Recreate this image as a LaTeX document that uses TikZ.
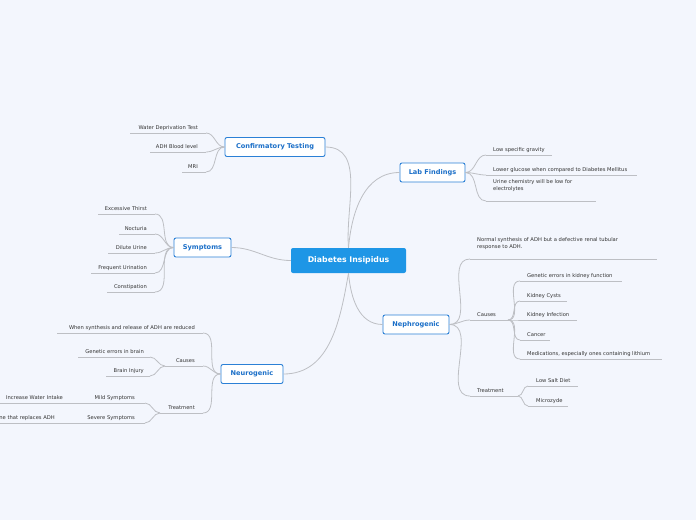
\documentclass[tikz,border=0pt]{standalone}
\usepackage{fontspec}
\setmainfont{DejaVu Sans}
\definecolor{bg}{HTML}{F3F6FD}
\definecolor{bl}{HTML}{2B80D6}
\definecolor{blt}{HTML}{1B6FC8}
\definecolor{cen}{HTML}{1E96E6}
\definecolor{ln}{HTML}{BDBFC4}
\definecolor{tx}{HTML}{333333}
\begin{document}
\begin{tikzpicture}[x=1pt,y=-1pt,
 box/.style={draw=bl,fill=white,rounded corners=2pt,line width=0.9pt,text=blt,font=\fontsize{6.6}{7}\selectfont\bfseries,minimum height=19pt,inner sep=0pt},
 lf/.style={font=\fontsize{5.2}{6.6}\selectfont,text=tx,inner sep=0pt},
 ul/.style={draw=ln,line width=0.6pt},
 cn/.style={draw=ln,line width=0.8pt}]
\fill[bg] (0,0) rectangle (696,520);
\useasboundingbox (0,0) rectangle (696,520);
% boxes
\node[fill=cen,rounded corners=2pt,text=white,font=\fontsize{7.8}{8}\selectfont\bfseries,minimum width=115pt,minimum height=25pt,inner sep=0pt] (c) at (348.5,260.5) {Diabetes Insipidus};
\node[box,minimum width=100pt] (ct) at (275,147) {Confirmatory Testing};
\node[box,minimum width=57pt] (sy) at (202.5,247.5) {Symptoms};
\node[box,minimum width=62pt] (ng) at (252,374) {Neurogenic};
\node[box,minimum width=65pt] (lf) at (432.5,172.5) {Lab Findings};
\node[box,minimum width=66pt] (np) at (416,324.5) {Nephrogenic};
\draw[cn] (c.north) to[out=95,in=0] (ct.east);
\draw[cn] (c.west) to[out=180,in=0] (sy.east);
\draw[cn] (c.south) to[out=260,in=0] (ng.east);
\draw[cn] (c.north) to[out=85,in=180] (lf.west);
\draw[cn] (c.south) to[out=275,in=180] (np.west);
\newcommand\lleaf[6]{\node[lf,anchor=base east] (#1) at (#2,#3+2) {#4};
 \coordinate (#1a) at (#5,#3+6); \coordinate (#1b) at (#6,#3+6); \draw[ul] (#1a)--(#1b);}
\newcommand\rleaf[6]{\node[lf,anchor=base west,align=left] (#1) at (#2,#3+2) {#4};
 \coordinate (#1a) at (#5,#3+6); \coordinate (#1b) at (#6,#3+6); \draw[ul] (#1a)--(#1b);}
% confirmatory
\lleaf{w1}{198}{127}{Water Deprivation Test}{130}{206}
\lleaf{w2}{198}{146}{ADH Blood level}{150}{206}
\lleaf{w3}{198}{166}{MRI}{182}{206}
\foreach \n in {w1,w2,w3} \draw[cn] (\n b) to[out=0,in=180] (ct.west);
% symptoms
\lleaf{s1}{147}{208}{Excessive Thirst}{98}{155}
\lleaf{s2}{147}{228}{Nocturia}{119}{155}
\lleaf{s3}{147}{247}{Dilute Urine}{108}{155}
\lleaf{s4}{147}{267}{Frequent Urination}{91}{155}
\lleaf{s5}{147}{286}{Constipation}{107}{155}
\foreach \n in {s1,s2,s3,s4,s5} \draw[cn] (\n b) to[out=0,in=180] (sy.west);
% neurogenic
\lleaf{n1}{195}{327}{When synthesis and release of ADH are reduced}{57}{203}
\lleaf{n2}{195}{360}{Causes}{165}{203}
\lleaf{n3}{195}{407}{Treatment}{160}{203}
\foreach \n in {n1,n2,n3} \draw[cn] (\n b) to[out=0,in=180] (ng.west);
\lleaf{g1}{144}{351}{Genetic errors in brain}{78}{150}
\lleaf{g2}{144}{370}{Brain Injury}{106}{150}
\foreach \n in {g1,g2} \draw[cn] (\n b) to[out=0,in=180] (n2a);
\lleaf{t1}{135}{397}{Mild Symptoms}{68}{145}
\lleaf{t2}{135}{417}{Severe Symptoms}{60}{145}
\foreach \n in {t1,t2} \draw[cn] (\n b) to[out=0,in=180] (n3a);
\lleaf{u1}{63}{397}{Increase Water Intake}{-10}{68}
\lleaf{u2}{55}{417}{Medicine that replaces ADH}{-10}{60}
% lab findings
\rleaf{l1}{493}{149}{Low specific gravity}{486}{552}
\rleaf{l2}{493}{169}{Lower glucose when compared to Diabetes Mellitus}{486}{637}
\node[lf,anchor=base west,align=left] (l3) at (493,190) {Urine chemistry will be low for\\electrolytes};
\coordinate (l3a) at (486,201); \draw[ul] (l3a)--(596,201);
\foreach \n in {l1a,l2a,l3a} \draw[cn] (lf.east) to[out=0,in=180] (\n);
% nephrogenic
\node[lf,anchor=base west,align=left] (p1) at (477,248) {Normal synthesis of ADH but a defective renal tubular\\response to ADH.};
\coordinate (p1a) at (470,259); \draw[ul] (p1a)--(657,259);
\rleaf{p2}{477}{314}{Causes}{470}{508}
\rleaf{p3}{477}{390}{Treatment}{470}{518}
\foreach \n in {p1a,p2a,p3a} \draw[cn] (np.east) to[out=0,in=180] (\n);
\rleaf{k1}{527}{275}{Genetic errors in kidney function}{520}{622}
\rleaf{k2}{527}{295}{Kidney Cysts}{520}{567}
\rleaf{k3}{527}{314}{Kidney Infection}{520}{577}
\rleaf{k4}{527}{334}{Cancer}{520}{550}
\rleaf{k5}{527}{353}{Medications, especially ones containing lithium}{520}{662}
\foreach \n in {k1a,k2a,k3a,k4a,k5a} \draw[cn] (p2b) to[out=0,in=180] (\n);
\rleaf{m1}{536}{380}{Low Salt Diet}{528}{578}
\rleaf{m2}{536}{400}{Microzyde}{528}{568}
\foreach \n in {m1a,m2a} \draw[cn] (p3b) to[out=0,in=180] (\n);
\end{tikzpicture}
\end{document}
